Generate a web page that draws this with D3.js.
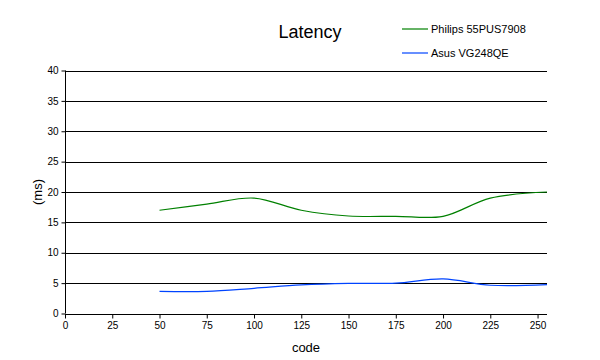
<!DOCTYPE html>
<html><head><meta charset="utf-8">
<script src="https://cdn.jsdelivr.net/npm/d3@7"></script>
<style>body{margin:0;background:#fff}svg{display:block;font-family:"Liberation Sans",Arial,sans-serif}</style>
</head><body><svg id="c" width="600" height="360"></svg>
<script>
const codes = [50, 75, 100, 125, 150, 175, 200, 225, 255];
const philips = [17, 18, 19, 17, 16.05, 16, 16, 19, 20];
const asus = [3.65, 3.65, 4.15, 4.7, 4.95, 5.0, 5.7, 4.65, 4.75];
const xTicks = [0, 25, 50, 75, 100, 125, 150, 175, 200, 225, 250];
const yTicks = [0, 5, 10, 15, 20, 25, 30, 35, 40];
const seriesNames = ["Philips 55PUS7908", "Asus VG248QE"];
const colors = ["#008000", "#0044ff"];

const svg = d3.select("#c");
const x = d3.scaleLinear().domain([0, 255]).range([65, 547]);
const y = d3.scaleLinear().domain([0, 40]).range([313.5, 70.5]);

// gridlines
svg.append("g").selectAll("line").data(yTicks.slice(1)).join("line")
  .attr("x1", 65).attr("x2", 547)
  .attr("y1", d => Math.round(y(d)) + 0.5).attr("y2", d => Math.round(y(d)) + 0.5)
  .attr("stroke", "#000").attr("stroke-width", 1);

const yAxis = svg.append("g").attr("transform", "translate(65.5,0)")
  .call(d3.axisLeft(y).tickValues(yTicks).tickSize(4).tickPadding(3).tickFormat(d3.format("d")));
const xAxis = svg.append("g").attr("transform", `translate(0,${Math.round(y(0)) + 0.5})`)
  .call(d3.axisBottom(x).tickValues(xTicks).tickSize(4).tickPadding(3).tickFormat(d3.format("d")));
[yAxis, xAxis].forEach(a => {
  a.select(".domain").attr("stroke", "#000");
  a.selectAll(".tick line").attr("stroke", "#000");
  a.selectAll("text").attr("font-size", 10).attr("fill", "#000").attr("font-family", "Liberation Sans, Arial, sans-serif");
});
// x domain without outer tick at end
xAxis.select(".domain").attr("d", `M${x(0)},0H${x(255)}`);
yAxis.select(".domain").attr("d", `M0,${y(0)}V${y(40)}`);

const line = d3.line().x((d, i) => x(codes[i])).y(d => y(d)).curve(d3.curveCatmullRom.alpha(0.5));
[philips, asus].forEach((s, k) => {
  svg.append("path").attr("d", line(s)).attr("fill", "none")
    .attr("stroke", colors[k]).attr("stroke-width", 1.2);
});

svg.append("text").attr("x", 310).attr("y", 38).attr("text-anchor", "middle")
  .attr("font-size", 18).text("Latency");
svg.append("text").attr("x", 306).attr("y", 352).attr("text-anchor", "middle")
  .attr("font-size", 13).text("code");
svg.append("text").attr("transform", "translate(42,192) rotate(-90)").attr("text-anchor", "middle")
  .attr("font-size", 13).text("(ms)");

seriesNames.forEach((n, k) => {
  const yy = 29 + k * 24;
  svg.append("line").attr("x1", 402).attr("x2", 428).attr("y1", yy).attr("y2", yy)
    .attr("stroke", colors[k]).attr("stroke-width", 1.2);
  svg.append("text").attr("x", 431).attr("y", yy + 4).attr("font-size", 11).text(n);
});
</script></body></html>
